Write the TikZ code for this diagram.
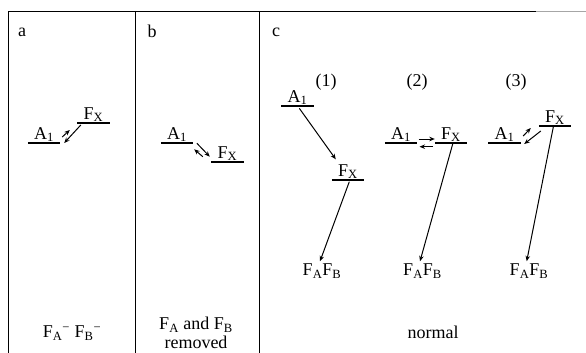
\documentclass[tikz,border=0pt]{standalone}
\usepackage{fontspec}
\setmainfont{Liberation Serif}
\usetikzlibrary{arrows.meta}
\newcommand{\lvA}{A\textsubscript{1}}
\newcommand{\lvF}{F\textsubscript{X}}
\newcommand{\fafb}{F\textsubscript{A}F\textsubscript{B}}
\begin{document}
\begin{tikzpicture}[x=1pt,y=-1pt,font=\fontsize{18}{20}\selectfont,
    lvl/.style={minimum width=32pt,inner xsep=0pt,inner ysep=1pt,anchor=south},
    lvline/.style={line width=1.3pt},
    rxn/.style={-{Stealth[length=5.5pt,width=4.5pt]},line width=1pt},
    panelline/.style={line width=0.8pt}]
    \useasboundingbox (0,0) rectangle (586,353);
    \draw[panelline] (8,353) -- (8,11) -- (536,11);
    \draw[panelline,gray!70] (536,11) -- (586,11);
    \draw[panelline] (135,11) -- (135,353);
    \draw[panelline] (259,11) -- (259,353);

    \node (pa) at (22,32) {a};
    \node (pb) at (152,31) {b};
    \node (pc) at (276,32) {c};
    \node (n1) at (326,82) {(1)};
    \node (n2) at (417,82) {(2)};
    \node (n3) at (516,82) {(3)};

    \node[lvl] (A1a) at (44,143) {\lvA};
    \node[lvl] (FXa) at (93.5,123) {\lvF};
    \node[lvl] (A1b) at (177,143) {\lvA};
    \node[lvl] (FXb) at (227.5,162) {\lvF};
    \node[lvl] (A1c) at (297.5,106) {\lvA};
    \node[lvl] (FXc) at (348,180) {\lvF};
    \node[lvl] (A1d) at (401,143) {\lvA};
    \node[lvl] (FXd) at (451,143) {\lvF};
    \node[lvl] (A1e) at (504.5,143) {\lvA};
    \node[lvl] (FXe) at (555,126) {\lvF};
    \foreach \n in {A1a,FXa,A1b,FXb,A1c,FXc,A1d,FXd,A1e,FXe}
        \draw[lvline] (\n.south west) -- (\n.south east);

    \node (FAFBc) at (322,271) {\fafb};
    \node (FAFBd) at (422.5,271) {\fafb};
    \node (FAFBe) at (529,271) {\fafb};

    \draw[rxn] ([xshift=2pt,yshift=6pt]A1a.south east) -- ([xshift=-7.5pt,yshift=-7pt]FXa.south west);
    \draw[rxn] ([xshift=3.5pt,yshift=-2pt]FXa.south west) -- ([xshift=4pt]A1a.south east);

    \draw[rxn] ([xshift=3.7pt,yshift=-0.3pt]A1b.south east) -- ([xshift=-1.5pt,yshift=5.3pt]FXb.south west);
    \draw[rxn] ([xshift=-8.5pt,yshift=5.3pt]FXb.south west) -- ([xshift=1pt,yshift=-6.3pt]A1b.south east);

    \draw[rxn] ([xshift=1.8pt,yshift=-2.3pt]A1c.south) -- ([xshift=4pt,yshift=20.7pt]FXc.south west);
    \draw[rxn] ([xshift=1.3pt,yshift=-1.7pt]FXc.south) -- ([xshift=-2pt,yshift=-1pt]FAFBc.north);

    \draw[rxn] ([xshift=1.3pt,yshift=4pt]A1d.south east) -- ([yshift=4pt]FXd.south west);
    \draw[rxn] ([xshift=-1.7pt,yshift=-3.7pt]FXd.south west) -- ([xshift=2.3pt,yshift=-3.7pt]A1d.south east);
    \draw[rxn] ([xshift=1.7pt,yshift=-1pt]FXd.south) -- ([xshift=-2.5pt,yshift=-1pt]FAFBd.north);

    \draw[rxn] ([xshift=2.5pt,yshift=7pt]A1e.south east) -- ([xshift=-8pt,yshift=-2pt]FXe.south west);
    \draw[rxn] ([xshift=2pt,yshift=-5pt]FXe.south west) -- ([xshift=3.5pt,yshift=-1pt]A1e.south east);
    \draw[rxn] ([xshift=-1.7pt,yshift=-1pt]FXe.south) -- ([xshift=-2.3pt,yshift=-1pt]FAFBe.north);

    \node (cond_a) at (72,333) {F\textsubscript{A}\textsuperscript{−} F\textsubscript{B}\textsuperscript{−}};
    \node[align=center,font=\fontsize{18}{19}\selectfont] (cond_b) at (196,333) {F\textsubscript{A} and F\textsubscript{B}\\removed};
    \node (cond_c) at (433,332) {normal};
\end{tikzpicture}
\end{document}
